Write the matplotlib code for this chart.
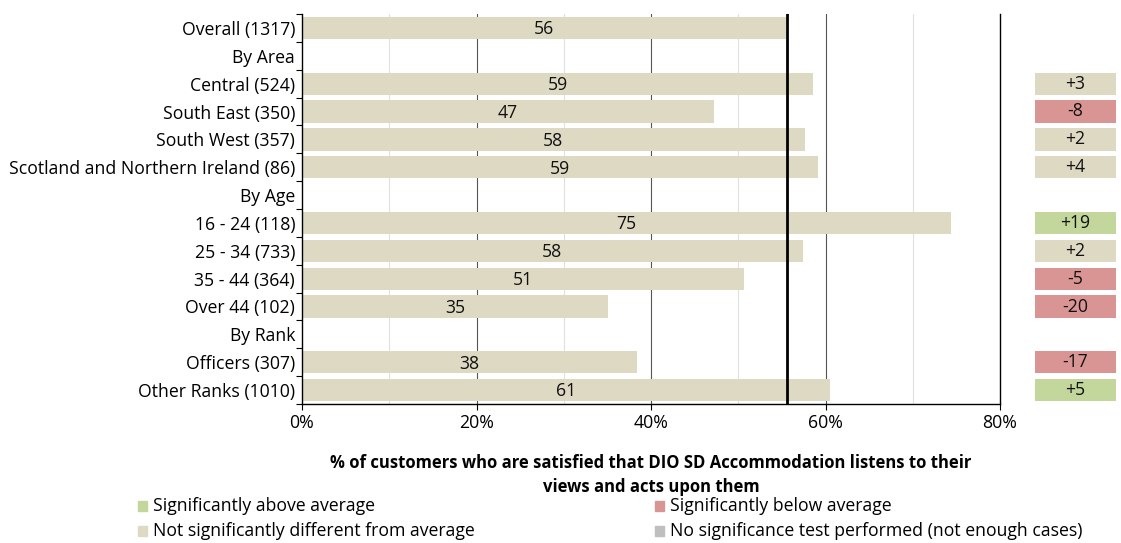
import matplotlib
matplotlib.use("Agg")
import matplotlib.pyplot as plt
from matplotlib.patches import Rectangle
import numpy as np

plt.rcParams['font.family'] = ['Open Sans', 'DejaVu Sans']

categories = ["Overall (1317)", "By Area", "Central (524)", "South East (350)", "South West (357)",
              "Scotland and Northern Ireland (86)", "By Age", "16 - 24 (118)", "25 - 34 (733)",
              "35 - 44 (364)", "Over 44 (102)", "By Rank", "Officers (307)", "Other Ranks (1010)"]
values = [55.5, None, 58.6, 47.2, 57.6, 59.1, None, 74.4, 57.4, 50.7, 35.1, None, 38.4, 60.5]
labels = ["56", "", "59", "47", "58", "59", "", "75", "58", "51", "35", "", "38", "61"]
diffs = [None, None, "+3", "-8", "+2", "+4", None, "+19", "+2", "-5", "-20", None, "-17", "+5"]
sig = [None, None, "n", "b", "n", "n", None, "a", "n", "b", "b", None, "b", "a"]
average = 55.6
xticks = [0, 20, 40, 60, 80]
xticklabels = ["0%", "20%", "40%", "60%", "80%"]
xlabel = "% of customers who are satisfied that DIO SD Accommodation listens to their\nviews and acts upon them"
legend_items = [("Significantly above average", "a"), ("Significantly below average", "b"),
                ("Not significantly different from average", "n"),
                ("No significance test performed (not enough cases)", "x")]

colors = {"a": "#C3D69B", "b": "#D99594", "n": "#DDD9C3", "x": "#BFBFBF"}
bar_color = "#DDD9C3"
fs = 12.7

W, H = 1121, 543
fig = plt.figure(figsize=(W / 100, H / 100), dpi=100)
ax = fig.add_axes([302 / W, 1 - 404 / H, (1000 - 302) / W, (404 - 14) / H])

n = len(categories)
y = np.arange(n)
for i, v in enumerate(values):
    if v is None:
        continue
    ax.barh(i, v, height=0.8, color=bar_color, zorder=2)
    ax.text(v / 2, i + 0.05, labels[i], ha='center', va='center', fontsize=fs, color='#111111', zorder=3)

ax.set_ylim(n - 0.5, -0.5)
ax.set_xlim(0, 80)
for g in [10, 30, 50, 70]:
    ax.axvline(g, color='#E0E0E0', lw=0.8, zorder=1)
for g in [20, 40, 60]:
    ax.axvline(g, color='#555555', lw=0.8, zorder=1)
ax.axvline(average, color='black', lw=2, zorder=4)

ax.set_yticks(y)
ax.set_yticklabels(categories, fontsize=fs)
ax.tick_params(axis='y', length=0, pad=5)
ax.set_yticks(np.arange(-0.5, n, 1), minor=True)
ax.tick_params(axis='y', which='minor', length=4, width=0.8)
ax.set_xticks(xticks)
ax.set_xticklabels(xticklabels, fontsize=fs)
ax.tick_params(axis='x', length=4, width=0.8, pad=3)
ax.spines['top'].set_visible(False)
for s in ['left', 'bottom', 'right']:
    ax.spines[s].set_linewidth(1.0)
    ax.spines[s].set_color('black')

# Difference boxes
ax2 = fig.add_axes([1035 / W, 1 - 404 / H, (1116 - 1035) / W, (404 - 14) / H])
ax2.set_ylim(n - 0.5, -0.5)
ax2.set_xlim(0, 1)
for i, d in enumerate(diffs):
    if d is None:
        continue
    ax2.barh(i, 1, left=0, height=0.8, color=colors[sig[i]])
    ax2.text(0.5, i, d, ha='center', va='center', fontsize=fs, color='#111111')
ax2.axis('off')

# x label
fig.text(651 / W, 1 - 475 / H, xlabel, ha='center', va='center', fontsize=12,
         fontweight='bold', linespacing=1.45)

# legend
pos = [(138, 506), (655, 506), (138, 531), (655, 531)]
for (lab, key), (px, py) in zip(legend_items, pos):
    fig.patches.append(Rectangle((px / W, 1 - (py + 5) / H), 9 / W, 10 / H,
                                 transform=fig.transFigure, color=colors[key]))
    fig.text((px + 15) / W, 1 - py / H, lab, ha='left', va='center', fontsize=fs)

fig.savefig("out.png", dpi=100)
